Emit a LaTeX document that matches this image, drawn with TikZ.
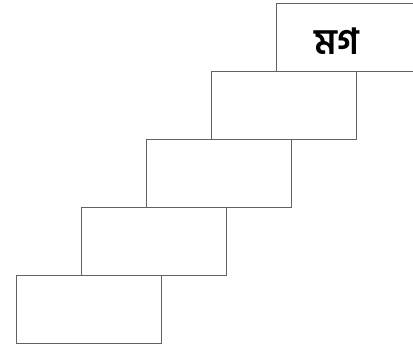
\documentclass[tikz,border=0pt]{standalone}
\usepackage{fontspec}
\newfontfamily\bnfont[Script=Bengali]{Hind Siliguri}
\usetikzlibrary{positioning}

\begin{document}
\begin{tikzpicture}[x=1pt,y=-1pt,
			stair/.style={draw=black!62, line width=1pt, rectangle, minimum width=145pt, minimum height=68pt, inner sep=0pt, outer sep=0pt, anchor=south west},
			word/.style={font=\bnfont\bfseries\fontsize{36}{38}\selectfont, inner sep=0pt}]
			\useasboundingbox (0,0) rectangle (413,349);
			\clip (0,0) rectangle (413,349);
			\node[stair] (s1) at (16,343) {};
			\node[stair] (s2) at ([xshift=65pt]s1.north west) {};
			\node[stair] (s3) at ([xshift=65pt]s2.north west) {};
			\node[stair] (s4) at ([xshift=65pt]s3.north west) {};
			\node[stair] (s5) at ([xshift=65pt]s4.north west) {};
			\node[word] (lbl) at (337,41) {মগ};
		\end{tikzpicture}
\end{document}
